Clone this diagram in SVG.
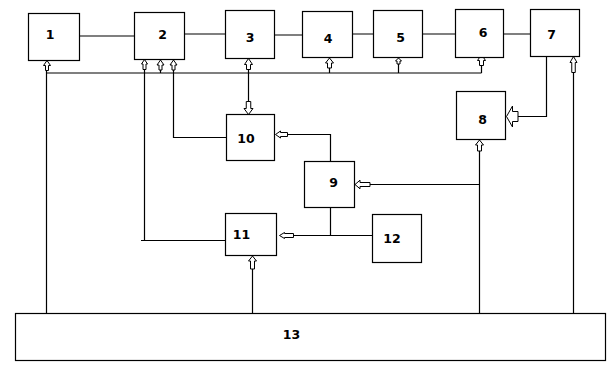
<svg xmlns="http://www.w3.org/2000/svg" width="613" height="376" viewBox="0 0 613 376">
<style>
.box{fill:#fff;stroke:#000;stroke-width:1.2}
.ln{fill:none;stroke:#000;stroke-width:1.2}
.arr{fill:#fff;stroke:#000;stroke-width:1}
.lb{font-family:"DejaVu Sans",Verdana,sans-serif;font-weight:bold;font-size:12.5px;text-anchor:middle;fill:#000}
</style>
<rect width="613" height="376" fill="#fff"/>
<g id="connectors">
<path class="ln" d="M79.5,36H134.5 M184.5,34H225.5 M274.5,35H302.5 M352.5,34H373.5 M422.5,34H455.5 M503.5,34H530.5"/>
<path class="ln" d="M46.5,73H481.5 M46.5,70V313.5 M160.5,70V73 M329.5,68V73 M398.5,64V73 M481.5,65V73"/>
<path class="ln" d="M144.5,69.5V240.5 M141,240.5H225.5 M173.5,70V137.5H226.5"/>
<path class="ln" d="M248.5,69.5V101.5"/>
<path class="ln" d="M546.5,56.5V116.5H518 M573.5,72.5V313.5"/>
<path class="ln" d="M479.5,151V313.5 M370,184.5H479.5"/>
<path class="ln" d="M287.5,134.5H330.5V161.5 M330.5,207.5V235.5 M293.5,235.5H372.5"/>
<path class="ln" d="M252.5,269V313.5"/>
<!-- arrows up -->
<path class="arr" d="M47,60.5l3.5,5h-2v5h-3v-5h-2z"/>
<path class="arr" d="M144.5,59.5l3,4.5h-1.5v5.5h-3v-5.5h-1.5z"/>
<path class="arr" d="M160.5,60l3.5,5h-2v5h-3v-5h-2z"/>
<path class="arr" d="M173.5,60l3.5,5h-2v5h-3v-5h-2z"/>
<path class="arr" d="M248.5,58.5l4,6h-2v5h-4v-5h-2z"/>
<path class="arr" d="M329.5,58l4,5h-2v5h-4v-5h-2z"/>
<path class="arr" d="M398.5,58l3,3h-1.5v3h-3v-3h-1.5z"/>
<path class="arr" d="M481.5,54.5l4,6h-2v5h-4v-5h-2z"/>
<path class="arr" d="M573.5,56.5l3.5,6h-1.75v10h-3.5v-10h-1.75z"/>
<path class="arr" d="M479.5,140l4,5h-2v6h-4v-6h-2z"/>
<path class="arr" d="M252.5,256l4,5h-2v8h-4v-8h-2z"/>
<!-- arrow down -->
<path class="arr" d="M248.5,114.5l4.5,-6h-2.25v-7h-4.5v7h-2.25z"/>
<!-- arrows left -->
<path class="arr" d="M506.5,116.5l6,-10.5v5.5h5.5v10h-5.5v5.5z"/>
<path class="arr" d="M355,184.5l5,-4.3v2.3h10v4h-10v2.3z"/>
<path class="arr" d="M275.5,134.5l5,-3.5v1.5h7v4h-7v1.5z"/>
<path class="arr" d="M279.5,235.5l5,-3v1h9v4h-9v1z"/>
</g>
<g id="n1"><rect class="box" x="28.5" y="13.5" width="51" height="47"/><text class="lb" x="50" y="38.5">1</text></g>
<g id="n2"><rect class="box" x="134.5" y="12.5" width="50" height="47"/><text class="lb" x="162.5" y="38.5">2</text></g>
<g id="n3"><rect class="box" x="225.5" y="10.5" width="49" height="48"/><text class="lb" x="250" y="41.5">3</text></g>
<g id="n4"><rect class="box" x="302.5" y="11.5" width="50" height="46"/><text class="lb" x="328" y="42.5">4</text></g>
<g id="n5"><rect class="box" x="373.5" y="10.5" width="49" height="47"/><text class="lb" x="400.5" y="41.5">5</text></g>
<g id="n6"><rect class="box" x="455.5" y="9.5" width="48" height="48"/><text class="lb" x="483" y="36.5">6</text></g>
<g id="n7"><rect class="box" x="530.5" y="9.5" width="49" height="47"/><text class="lb" x="551.5" y="38.5">7</text></g>
<g id="n8"><rect class="box" x="456.5" y="91.5" width="49" height="48"/><text class="lb" x="482.5" y="123.5">8</text></g>
<g id="n9"><rect class="box" x="304.5" y="161.5" width="50" height="46"/><text class="lb" x="333.5" y="186.5">9</text></g>
<g id="n10"><rect class="box" x="226.5" y="114.5" width="48" height="46"/><text class="lb" x="246" y="142.5">10</text></g>
<g id="n11"><rect class="box" x="225.5" y="213.5" width="51" height="42"/><text class="lb" x="241.5" y="238.5">11</text></g>
<g id="n12"><rect class="box" x="372.5" y="214.5" width="49" height="48"/><text class="lb" x="392" y="242.5">12</text></g>
<g id="n13"><rect class="box" x="15.5" y="313.5" width="590" height="47"/><text class="lb" x="291.5" y="338.5">13</text></g>
</svg>
